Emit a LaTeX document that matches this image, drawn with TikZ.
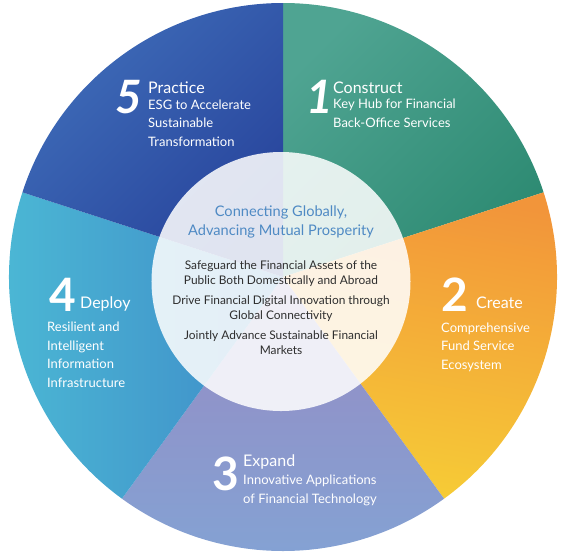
\documentclass[tikz,border=0pt]{standalone}
\usepackage{fontspec}
\setmainfont{Lato}
\usepackage{tikz}
\usepackage{xcolor}

\definecolor{tealLys}{HTML}{4FA492}
\definecolor{tealMork}{HTML}{2D8A72}
\definecolor{oransje}{HTML}{F2953A}
\definecolor{gul}{HTML}{F6CC36}
\definecolor{lilla}{HTML}{978AC3}
\definecolor{lysblaa}{HTML}{83A3D4}
\definecolor{cyan}{HTML}{4CBAD5}
\definecolor{midtblaa}{HTML}{3E8AC8}
\definecolor{blaaLys}{HTML}{3F6DB9}
\definecolor{blaaMork}{HTML}{27439B}
\definecolor{motto}{HTML}{4F8AC4}
\definecolor{morkgraa}{HTML}{2E2E2E}

\begin{document}
\begin{tikzpicture}[x=1pt,y=1pt,
  siffer/.style={text=white,font=\fontsize{46}{46}\selectfont\bfseries,inner sep=0pt,anchor=base west},
  tittel/.style={text=white,font=\fontsize{16}{18}\selectfont,inner sep=0pt,anchor=base west},
  tekst/.style={text=white,font=\fontsize{13}{18.5}\selectfont,inner sep=0pt,anchor=base west,align=left},
  midt/.style={text=morkgraa,font=\fontsize{11.9}{14.5}\selectfont,inner sep=0pt,anchor=base,align=center}]
  \useasboundingbox (-283,-281) rectangle (286,277);
  % Sektorer (sentrum i origo, radius 274pt, 72 grader hver)
  \shade[top color=tealLys,bottom color=tealMork,shading angle=45]
    (0,0) -- (90:274pt) arc[start angle=90,end angle=18,radius=274pt] -- cycle;
  \shade[left color=oransje,right color=gul,shading angle=-10]
    (0,0) -- (18:274pt) arc[start angle=18,end angle=-54,radius=274pt] -- cycle;
  \shade[top color=lilla,bottom color=lysblaa]
    (0,0) -- (-54:274pt) arc[start angle=-54,end angle=-126,radius=274pt] -- cycle;
  \shade[left color=cyan,right color=midtblaa]
    (0,0) -- (-126:274pt) arc[start angle=-126,end angle=-198,radius=274pt] -- cycle;
  \shade[top color=blaaLys,bottom color=blaaMork,shading angle=45]
    (0,0) -- (162:274pt) arc[start angle=162,end angle=90,radius=274pt] -- cycle;
  % Indre sirkel
  \fill[white,opacity=0.86] (-2,-4.5) circle[radius=129.5pt];
  % Sektor 1 (grunnlinje for siste linje)
  \node[siffer,font=\fontsize{46}{46}\selectfont\bfseries\itshape] (nr1) at (23,164) {1};
  \node[tittel] (tittel1) at (50,184) {Construct};
  \node[tekst] (tekst1) at (50,150) {Key Hub for Financial\\Back-Office Services};
  % Sektor 2
  \node[siffer] (nr2) at (158,-34) {2};
  \node[tittel] (tittel2) at (193,-31) {Create};
  \node[tekst] (tekst2) at (158,-92) {Comprehensive\\Fund Service\\Ecosystem};
  % Sektor 3
  \node[siffer] (nr3) at (-71,-213) {3};
  \node[tittel] (tittel3) at (-40,-189) {Expand};
  \node[tekst] (tekst3) at (-40,-226) {Innovative Applications\\of Financial Technology};
  % Sektor 4
  \node[siffer] (nr4) at (-234,-34) {4};
  \node[tittel] (tittel4) at (-203,-31) {Deploy};
  \node[tekst] (tekst4) at (-236,-110) {Resilient and\\Intelligent\\Information\\Infrastructure};
  % Sektor 5
  \node[siffer,font=\fontsize{46}{46}\selectfont\bfseries\itshape] (nr5) at (-167.5,164) {5};
  \node[tittel] (tittel5) at (-135,184) {Practice};
  \node[tekst] (tekst5) at (-135,131) {ESG to Accelerate\\Sustainable\\Transformation};
  % Tekst i midten
  \node[midt,text=motto,font=\fontsize{14.6}{18.3}\selectfont] (motto) at (-2,42)
    {Connecting Globally,\\Advancing Mutual Prosperity};
  \node[midt] (maal1) at (-2,-7) {Safeguard the Financial Assets of the\\Public Both Domestically and Abroad};
  \node[midt] (maal2) at (-2,-42) {Drive Financial Digital Innovation through\\Global Connectivity};
  \node[midt] (maal3) at (-2,-77) {Jointly Advance Sustainable Financial\\Markets};
\end{tikzpicture}
\end{document}
